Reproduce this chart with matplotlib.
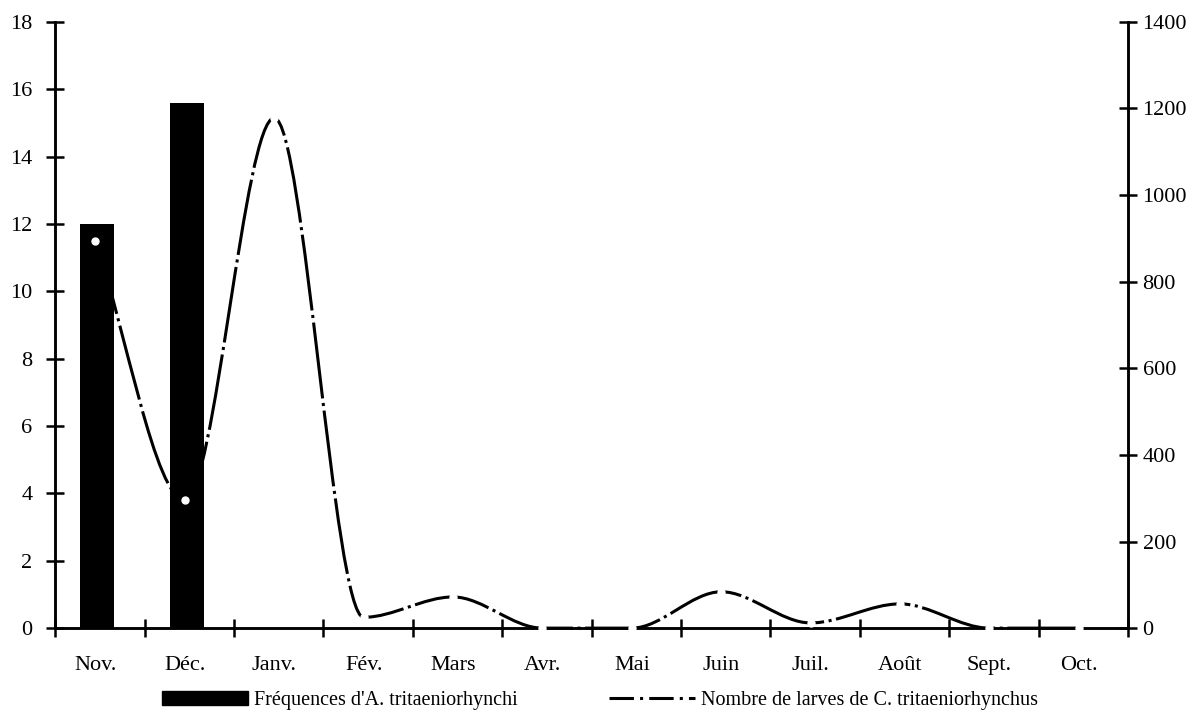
import matplotlib
matplotlib.use('Agg')
import matplotlib.pyplot as plt
from matplotlib.path import Path
from matplotlib.patches import PathPatch, Patch
from matplotlib.lines import Line2D
import numpy as np

# data
months = ['Nov.', 'Déc.', 'Janv.', 'Fév.', 'Mars', 'Avr.', 'Mai', 'Juin', 'Juil.', 'Août', 'Sept.', 'Oct.']
freq_months = ['Nov.', 'Déc.']
freq_vals = [12.0, 15.6]          # Fréquences d'A. tritaeniorhynchi (left axis)
larves = [895, 296, 1178, 25, 72, 0, 0, 84, 12, 56, 0, 0]   # larves de C. tritaeniorhynchus (right axis)

plt.rcParams['font.family'] = ['Liberation Serif', 'DejaVu Serif']
plt.rcParams['font.size'] = 16

fig = plt.figure(figsize=(12, 7.27), dpi=100)
ax = fig.add_axes([0.046, 0.136, 0.894, 0.834])
ax2 = ax.twinx()

# the scan sits a little left of the category centres
x = np.arange(len(months)) - 0.05
xb = [months.index(m) - 0.03 for m in freq_months]
ax.bar(xb, freq_vals, width=0.38, color='black', zorder=2)

# smooth line: monotone cubic bezier through the monthly points
y = np.array(larves, dtype=float)
d = np.diff(y)
m = np.zeros_like(y)
m[0], m[-1] = d[0], d[-1]
for k in range(1, len(y) - 1):
    if d[k - 1] * d[k] > 0:
        m[k] = (d[k - 1] + d[k]) / 2
for k in range(len(d)):
    if d[k] == 0:
        m[k] = m[k + 1] = 0
    else:
        a, b = m[k] / d[k], m[k + 1] / d[k]
        s = a * a + b * b
        if s > 9:
            t = 3 / np.sqrt(s)
            m[k], m[k + 1] = t * a * d[k], t * b * d[k]
verts = [(x[0], y[0])]
codes = [Path.MOVETO]
for k in range(len(d)):
    verts += [(x[k] + 1 / 3, y[k] + m[k] / 3), (x[k + 1] - 1 / 3, y[k + 1] - m[k + 1] / 3), (x[k + 1], y[k + 1])]
    codes += [Path.CURVE4] * 3
ax2.add_patch(PathPatch(Path(verts, codes), fill=False, edgecolor='black', lw=2.2,
                        linestyle=(0, (25, 1.5, 1, 1.5)), zorder=3, clip_on=False))
ax2.plot(x, y, 'o', color='white', ms=5, zorder=4, clip_on=False)

ax.set_xlim(-0.5, len(months) - 0.5)
ax.set_ylim(0, 18)
ax2.set_ylim(0, 1400)
ax.set_yticks(np.arange(0, 19, 2))
ax2.set_yticks(np.arange(0, 1401, 200))

ax.set_xticks(np.arange(-0.5, len(months) + 0.5, 1))
ax.set_xticklabels([])
ax.set_xticks(x, minor=True)
ax.set_xticklabels(months, minor=True)
ax.tick_params(axis='x', which='minor', length=0, pad=20)
ax.tick_params(axis='x', which='major', direction='inout', length=13, width=1.8)
ax.tick_params(axis='y', direction='inout', length=13, width=1.8, pad=10)
ax2.tick_params(axis='y', direction='inout', length=13, width=1.8, pad=4)

for a in (ax, ax2):
    a.spines['top'].set_visible(False)
    for s in ('left', 'right', 'bottom'):
        a.spines[s].set_linewidth(1.8)

handles = [Patch(facecolor='black', edgecolor='black'),
           Line2D([], [], color='black', lw=2.2, linestyle=(0, (8, 2, 1, 2)))]
labels = ["Fréquences d'A. tritaeniorhynchi", "Nombre de larves de C. tritaeniorhynchus"]
fig.legend(handles, labels, loc='center', bbox_to_anchor=(0.5, 0.037), ncol=2, frameon=False,
           fontsize=14.5, handlelength=4.3, handletextpad=0.3, columnspacing=4.5)

fig.savefig('out.png', dpi=100)
